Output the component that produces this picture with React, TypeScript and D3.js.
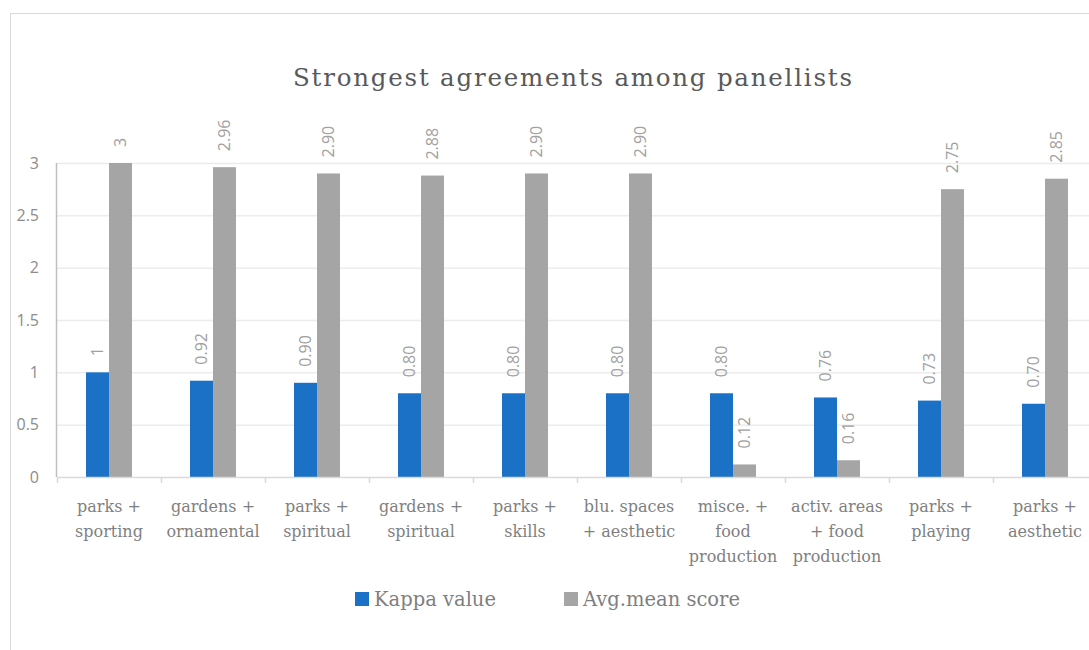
import React from "react";
import * as d3 from "d3";

const categories: string[] = [
  "parks +\nsporting",
  "gardens +\nornamental",
  "parks +\nspiritual",
  "gardens +\nspiritual",
  "parks +\nskills",
  "blu. spaces\n+ aesthetic",
  "misce. +\nfood\nproduction",
  "activ. areas\n+ food\nproduction",
  "parks +\nplaying",
  "parks +\naesthetic",
];
const kappaValues: number[] = [1, 0.92, 0.9, 0.8, 0.8, 0.8, 0.8, 0.76, 0.73, 0.7];
const avgMeanScores: number[] = [3, 2.96, 2.9, 2.88, 2.9, 2.9, 0.12, 0.16, 2.75, 2.85];
const yTicks: number[] = [0, 0.5, 1, 1.5, 2, 2.5, 3];
const seriesNames: string[] = ["Kappa value", "Avg.mean score"];
const title = "Strongest agreements among panellists";

const BLUE = "#1a71c6";
const GRAY = "#a5a5a5";
const SERIF = "'DejaVu Serif', serif";
const SANS = "'Open Sans', 'Noto Sans', sans-serif";

const fmt = (v: number) => (Number.isInteger(v) ? String(v) : v.toFixed(2));

export default function App() {
  const W = 1089;
  const H = 650;
  const left = 57;
  const right = 1097;
  const top = 163;
  const bottom = 477;

  const x = d3.scaleBand<string>().domain(categories).range([left, right]).padding(0);
  const bw = x.bandwidth();
  const groupW = 46;
  const sub = d3
    .scaleBand<number>()
    .domain([0, 1])
    .range([(bw - groupW) / 2, (bw + groupW) / 2])
    .padding(0);
  const y = d3.scaleLinear().domain([0, 3]).range([bottom, top]);

  const series = [kappaValues, avgMeanScores];
  const colors = [BLUE, GRAY];

  return (
    <svg
      width={W}
      height={H}
      style={{ position: "absolute", left: 0, top: 0, background: "#fff" }}
    >
      <rect x={10.5} y={13.5} width={1200} height={800} fill="#fff" stroke="#d9d9d9" />
      <text
        x={293}
        y={86}
        fontFamily={SERIF}
        fontSize={24.5}
        fill="#595959"
        textLength={559}
        lengthAdjust="spacing"
      >
        {title}
      </text>

      {yTicks.map((t) => (
        <g key={t}>
          {t > 0 && (
            <line x1={left} x2={W} y1={y(t) + 0.5} y2={y(t) + 0.5} stroke="#ececec" strokeWidth={1.5} />
          )}
          <text
            x={39}
            y={y(t)}
            dy="0.35em"
            textAnchor="end"
            fontFamily={SANS}
            fontSize={16}
            fill="#8c8c8c"
          >
            {t}
          </text>
        </g>
      ))}

      {categories.map((c, i) => (
        <g key={c}>
          {series.map((s, k) => {
            const bx = (x(c) as number) + (sub(k) as number);
            const by = y(s[i]);
            const cx = bx + sub.bandwidth() / 2;
            const ly = by - 16;
            return (
              <g key={k}>
                <rect x={bx} y={by} width={sub.bandwidth()} height={bottom - by} fill={colors[k]} />
                <text
                  transform={`translate(${cx},${ly}) rotate(-90)`}
                  dy="0.36em"
                  textAnchor="start"
                  fontFamily={SANS}
                  fontSize={16}
                  fill="#a0a0a0"
                >
                  {fmt(s[i])}
                </text>
              </g>
            );
          })}
          {c.split("\n").map((line, j) => (
            <text
              key={j}
              x={(x(c) as number) + bw / 2}
              y={512 + j * 25}
              textAnchor="middle"
              fontFamily={SERIF}
              fontSize={16}
              fill="#7f7f7f"
            >
              {line}
            </text>
          ))}
        </g>
      ))}

      <line x1={left - 0.5} x2={left - 0.5} y1={top} y2={bottom} stroke="#bfbfbf" strokeWidth={1.5} />
      <line x1={left} x2={W} y1={bottom + 0.5} y2={bottom + 0.5} stroke="#d9d9d9" strokeWidth={1.5} />
      {categories.map((c) => (
        <line
          key={"t" + c}
          x1={(x(c) as number) + 0.5}
          x2={(x(c) as number) + 0.5}
          y1={bottom}
          y2={bottom + 6}
          stroke="#d9d9d9"
          strokeWidth={1.5}
        />
      ))}

      {seriesNames.map((n, k) => {
        const lx = [355, 564][k];
        return (
          <g key={n}>
            <rect x={lx} y={592} width={14} height={14} fill={colors[k]} />
            <text x={lx + 19} y={606} fontFamily={SERIF} fontSize={19.5} fill="#7f7f7f">
              {n}
            </text>
          </g>
        );
      })}
    </svg>
  );
}
